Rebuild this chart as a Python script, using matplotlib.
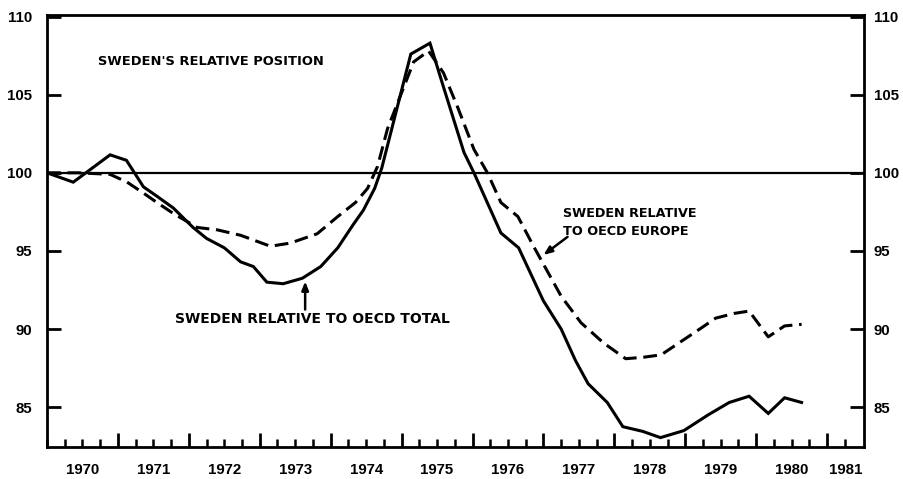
import matplotlib
matplotlib.use("Agg")
import matplotlib.pyplot as plt
import numpy as np

# ---------------- data ----------------
total_x = [1970.00, 1970.37, 1970.89, 1971.12, 1971.36, 1971.55, 1971.78, 1972.06,
           1972.25, 1972.50, 1972.73, 1972.91, 1973.10, 1973.33, 1973.60, 1973.86,
           1974.10, 1974.32, 1974.46, 1974.62, 1974.72, 1975.13, 1975.40, 1975.59,
           1975.88, 1976.02, 1976.40, 1976.65, 1977.00, 1977.25, 1977.45, 1977.63,
           1977.90, 1978.12, 1978.40, 1978.65, 1978.98, 1979.32, 1979.62, 1979.90,
           1980.17, 1980.40, 1980.64]
total_y = [100.0, 99.4, 101.15, 100.8, 99.1, 98.5, 97.75, 96.5,
           95.8, 95.2, 94.3, 94.0, 93.0, 92.9, 93.25, 94.0,
           95.2, 96.7, 97.6, 99.0, 100.3, 107.6, 108.3, 105.5,
           101.3, 100.0, 96.15, 95.2, 91.8, 90.0, 88.0, 86.5,
           85.3, 83.75, 83.45, 83.05, 83.5, 84.5, 85.3, 85.7,
           84.6, 85.6, 85.3]

europe_x = [1970.00, 1970.45, 1970.89, 1971.13, 1971.36, 1971.55, 1971.78, 1972.12,
            1972.40, 1972.73, 1972.91, 1973.15, 1973.43, 1973.81, 1974.10, 1974.35,
            1974.52, 1974.66, 1974.80, 1975.17, 1975.38, 1975.59, 1975.79, 1976.02,
            1976.21, 1976.40, 1976.64, 1976.86, 1977.25, 1977.53, 1977.85, 1978.16,
            1978.42, 1978.66, 1978.94, 1979.22, 1979.43, 1979.69, 1979.90, 1980.17,
            1980.40, 1980.64]
europe_y = [100.0, 100.0, 99.9, 99.4, 98.7, 98.1, 97.4, 96.5,
            96.35, 96.0, 95.7, 95.3, 95.5, 96.1, 97.2, 98.1,
            99.0, 100.4, 102.8, 107.1, 107.8, 106.4, 104.2, 101.5,
            100.0, 98.1, 97.2, 95.3, 92.1, 90.4, 89.1, 88.1,
            88.2, 88.35, 89.2, 90.05, 90.7, 91.0, 91.15, 89.5,
            90.2, 90.3]

years = list(range(1970, 1982))
year_labels = [str(y) for y in years]
y_ticks = [85, 90, 95, 100, 105, 110]
reference_level = 100

title_text = "SWEDEN'S RELATIVE POSITION"
total_label = "SWEDEN RELATIVE TO OECD TOTAL"
europe_label = "SWEDEN RELATIVE\nTO OECD EUROPE"

# ---------------- figure ----------------
xmin, xmax = 1970.0, 1981.52
ymin, ymax = 82.45, 110.1

fig = plt.figure(figsize=(9.04, 4.79), dpi=100)
ax = fig.add_axes([47 / 904, 1 - 447 / 479, (864 - 47) / 904, (447 - 15) / 479])
ax.set_xlim(xmin, xmax)
ax.set_ylim(ymin, ymax)

numfont = dict(family=['Liberation Sans', 'DejaVu Sans'], weight='bold', size=10.8)
txtfont = dict(family=['DejaVu Sans'], weight='bold')

ax.axhline(reference_level, color='black', lw=1.6, zorder=2)
ax.plot(total_x, total_y, color='black', lw=2.2, solid_joinstyle='miter', zorder=3)
ax.plot(europe_x, europe_y, color='black', lw=2.2, dashes=(4.5, 2.2), zorder=3)

for s in ax.spines.values():
    s.set_linewidth(2.0)

# y ticks both sides
ax.set_yticks(y_ticks)
ax.set_yticklabels([str(v) for v in y_ticks], fontdict=numfont)
ax.tick_params(axis='y', which='major', direction='in', length=10, width=2,
               left=True, right=True, labelleft=True, labelright=False, pad=10.5)

sec_y = ax.secondary_yaxis('right')
sec_y.set_yticks(y_ticks)
sec_y.set_yticklabels([str(v) for v in y_ticks], fontdict=numfont)
sec_y.tick_params(direction='in', length=0, pad=7)
sec_y.spines['right'].set_visible(False)

# x: long ticks at year boundaries, short quarter ticks
quarters = np.arange(xmin, 1981.5, 0.25)
ax.set_xticks(years[1:])
ax.set_xticks(quarters, minor=True)
ax.tick_params(axis='x', which='major', direction='in', length=10, width=2,
               top=False, labelbottom=False)
ax.tick_params(axis='x', which='minor', direction='in', length=5.5, width=1.8, top=False)

# year labels centred in each year (last one in the visible part)
label_pos = [y + 0.5 for y in years[:-1]] + [(years[-1] + xmax) / 2]
sec_x = ax.secondary_xaxis('bottom')
sec_x.set_xticks(label_pos)
sec_x.set_xticklabels(year_labels, fontdict=numfont)
sec_x.tick_params(length=0, pad=11.5)
sec_x.spines['bottom'].set_visible(False)

# annotations
ax.text(1970.72, 107.1, title_text, ha='left', va='center', size=9.4, **txtfont)
ax.text(1973.74, 90.64, total_label, ha='center', va='center', size=10, **txtfont)
ax.text(1977.27, 96.83, europe_label, ha='left', va='center', linespacing=1.45,
        size=9.2, **txtfont)

ax.annotate('', xy=(1973.64, 93.05), xytext=(1973.64, 91.25),
            arrowprops=dict(arrowstyle='-|>,head_length=0.5,head_width=0.2',
                            color='black', lw=1.8, shrinkA=0, shrinkB=0))
ax.annotate('', xy=(1977.0, 94.74), xytext=(1977.34, 95.9),
            arrowprops=dict(arrowstyle='-|>,head_length=0.5,head_width=0.2',
                            color='black', lw=1.8, shrinkA=0, shrinkB=0))

fig.savefig('out.png', dpi=100)
